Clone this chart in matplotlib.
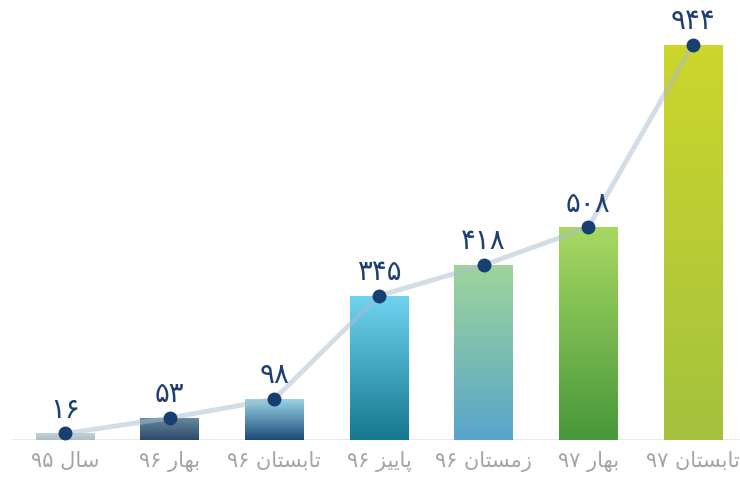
import numpy as np
import matplotlib
matplotlib.use('Agg')
from matplotlib import pyplot as plt
from matplotlib.colors import LinearSegmentedColormap

# data
categories = ['سال ۹۵', 'بهار ۹۶', 'تابستان ۹۶', 'پاییز ۹۶', 'زمستان ۹۶', 'بهار ۹۷', 'تابستان ۹۷']
values = [16, 53, 98, 345, 418, 508, 944]
value_labels = ['۱۶', '۵۳', '۹۸', '۳۴۵', '۴۱۸', '۵۰۸', '۹۴۴']
top_colors = ['#c3d1d9', '#6a8ba0', '#9ad7e8', '#6fd3f0', '#9fd59a', '#a8d862', '#ccd62c']
bottom_colors = ['#adbfc9', '#2c4a69', '#1e4a78', '#17798f', '#58a5ca', '#47983b', '#a4c23e']

# arabic presentation forms: iso, fin, ini, med
FORMS = {
    'ا': ('\uFE8D', '\uFE8E', None, None),
    'ب': ('\uFE8F', '\uFE90', '\uFE91', '\uFE92'),
    'ت': ('\uFE95', '\uFE96', '\uFE97', '\uFE98'),
    'ر': ('\uFEAD', '\uFEAE', None, None),
    'ز': ('\uFEAF', '\uFEB0', None, None),
    'س': ('\uFEB1', '\uFEB2', '\uFEB3', '\uFEB4'),
    'ل': ('\uFEDD', '\uFEDE', '\uFEDF', '\uFEE0'),
    'م': ('\uFEE1', '\uFEE2', '\uFEE3', '\uFEE4'),
    'ن': ('\uFEE5', '\uFEE6', '\uFEE7', '\uFEE8'),
    'ه': ('\uFEE9', '\uFEEA', '\uFEEB', '\uFEEC'),
    'ی': ('\uFBFC', '\uFBFD', '\uFBFE', '\uFBFF'),
    'پ': ('\uFB56', '\uFB57', '\uFB58', '\uFB59'),
}


def shape_word(word):
    out = []
    for i, ch in enumerate(word):
        if ch not in FORMS:
            out.append(ch)
            continue
        prev = word[i - 1] if i > 0 else None
        nxt = word[i + 1] if i + 1 < len(word) else None
        join_prev = prev in FORMS and FORMS[prev][2] is not None
        join_next = nxt in FORMS and FORMS[ch][2] is not None
        iso, fin, ini, med = FORMS[ch]
        if join_prev and join_next:
            out.append(med)
        elif join_prev:
            out.append(fin)
        elif join_next:
            out.append(ini)
        else:
            out.append(iso)
    return ''.join(out[::-1])


def rtl(text):
    tokens = text.split(' ')
    shaped = [t if t[0] in '۰۱۲۳۴۵۶۷۸۹' else shape_word(t) for t in tokens]
    return ' '.join(shaped[::-1])


fig = plt.figure(figsize=(7.4, 4.79), dpi=100)
ax = fig.add_axes([0.017, 0.081, 0.983, 0.919])

x = np.arange(len(values))
bars = ax.bar(x, values, width=0.56, color='none', zorder=2)
for b, c1, c2 in zip(bars, top_colors, bottom_colors):
    cmap = LinearSegmentedColormap.from_list('g', [c2, c1])
    grad = np.linspace(0, 1, 100).reshape(-1, 1)
    x0, y0 = b.get_x(), b.get_y()
    im = ax.imshow(grad, cmap=cmap, origin='lower', aspect='auto',
                   extent=(x0, x0 + b.get_width(), y0, y0 + b.get_height()), zorder=2)
    im.set_clip_path(b)

ax.axhline(0, color='#e2e6ea', lw=1.2, zorder=1)
ax.plot(x, values, color='#a9bccf', lw=3.5, alpha=0.5, zorder=3, solid_capstyle='round')
ax.plot(x, values, 'o', color='#173f70', markersize=9, zorder=4)

for xi, v, lab in zip(x, values, value_labels):
    ax.annotate(lab, (xi, v), xytext=(0, 7), textcoords='offset points',
                ha='center', va='bottom', fontsize=20, color='#1f3f73')

ax.set_xlim(-0.5, 6.45)
ax.set_ylim(0, 1051)
ax.set_xticks(x)
ax.set_xticklabels([rtl(c) for c in categories], fontsize=15, color='#a4a4a4')
ax.tick_params(axis='x', length=0, pad=8)
ax.set_yticks([])
for s in ax.spines.values():
    s.set_visible(False)

plt.savefig('out.png', dpi=100)
